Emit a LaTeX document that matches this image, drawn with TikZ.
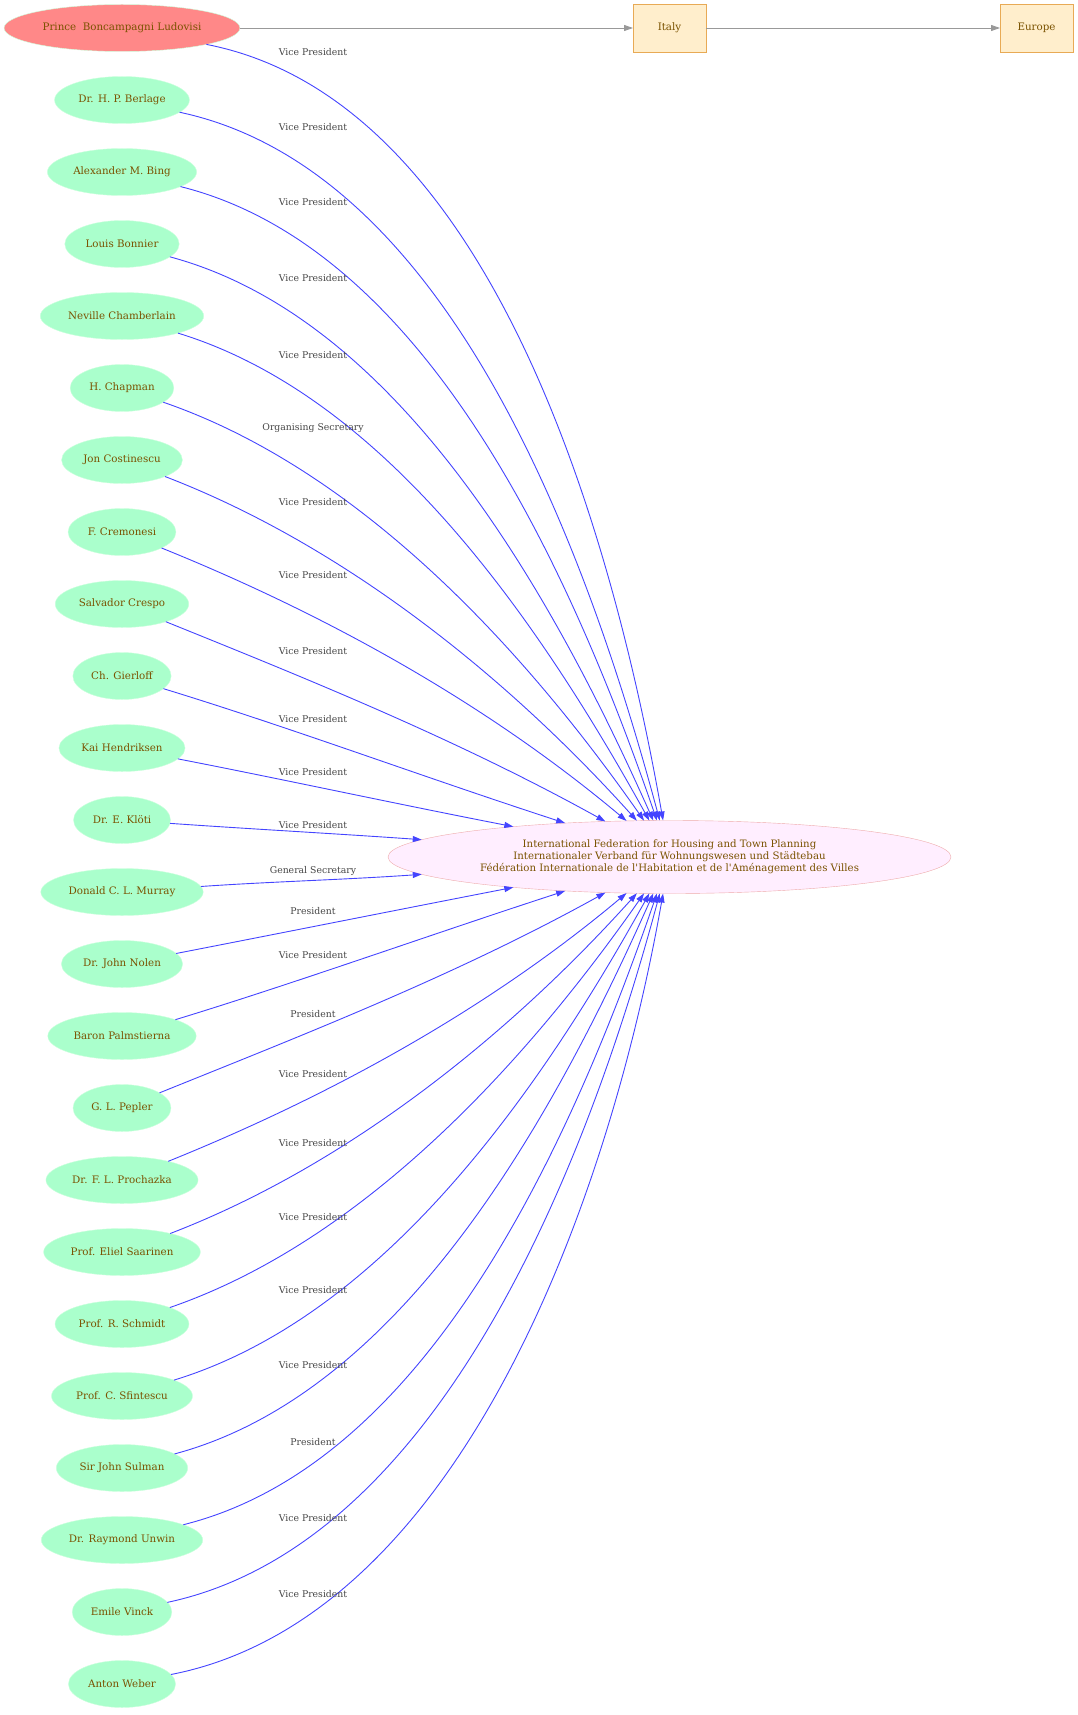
\documentclass[tikz,border=0pt]{standalone}
\usepackage{fontspec}
\setmainfont{DejaVu Serif}
\usetikzlibrary{positioning,shapes.geometric,arrows.meta}
\definecolor{namebrown}{RGB}{122,82,0}
\definecolor{mint}{RGB}{170,255,204}
\definecolor{mintline}{RGB}{204,255,221}
\definecolor{salmon}{RGB}{255,136,136}
\definecolor{blush}{RGB}{255,238,255}
\definecolor{blushline}{RGB}{238,170,170}
\definecolor{sand}{RGB}{255,238,204}
\definecolor{sandline}{RGB}{232,170,85}
\definecolor{linkblue}{RGB}{68,68,255}
\tikzset{person/.style={ellipse,draw=mintline,fill=mint,text=namebrown,minimum width=97pt,minimum height=47pt,inner xsep=4pt,outer sep=0pt,font=\fontsize{10.3}{12}\selectfont}}
\tikzset{chair/.style={person,fill=salmon,draw=mintline}}
\tikzset{place/.style={rectangle,draw=sandline,fill=sand,text=namebrown,minimum width=73pt,minimum height=48pt,outer sep=0pt,font=\fontsize{10.3}{12}\selectfont}}
\tikzset{org/.style={ellipse,draw=blushline,fill=blush,text=namebrown,minimum width=563pt,minimum height=73pt,inner sep=2pt,outer sep=0pt,align=center,font=\fontsize{10.2}{12.2}\selectfont}}
\tikzset{role/.style={text=black!73,inner sep=1pt,font=\fontsize{9.3}{10}\selectfont}}
\tikzset{link/.style={draw=linkblue,line width=0.9pt,out looseness=0.8,in looseness=0.9}}
\tikzset{geo/.style={draw=black!40,line width=0.9pt}}
\tikzset{node distance=25pt}
\tikzset{>={Triangle[length=9pt,width=6pt]}}

\begin{document}
\begin{tikzpicture}[x=1pt,y=1pt]
    \useasboundingbox (0,0) rectangle (1077,-1715);

    \node (P0) [chair] at (122,-28) {Prince\ \ Boncampagni Ludovisi};
    \foreach \name [count=\i, remember=\i as \j (initially 0)] in {Dr. H. P. Berlage, Alexander M. Bing, Louis Bonnier, Neville Chamberlain, H. Chapman, Jon Costinescu, F. Cremonesi, Salvador Crespo, Ch. Gierloff, Kai Hendriksen, Dr. E. Klöti, Donald C. L. Murray, Dr. John Nolen, Baron Palmstierna, G. L. Pepler, Dr. F. L. Prochazka, Prof. Eliel Saarinen, Prof. R. Schmidt, Prof. C. Sfintescu, Sir John Sulman, Dr. Raymond Unwin, Emile Vinck, Anton Weber}
        \node (P\i) [person,below=of P\j] {\name};

    \node (IFHTP) [org] at (669.5,-857) {International Federation for Housing and Town Planning\\Internationaler Verband für Wohnungswesen und Städtebau\\Fédération Internationale de l\textquotesingle Habitation et de l\textquotesingle Aménagement des Villes};

    \node (Italy) [place] at (IFHTP |- P0) {Italy};
    \node (Europe) [place,right=294pt of Italy] {Europe};
    \draw [geo,->] (P0) -- (Italy);
    \draw [geo,->] (Italy) -- (Europe);

    \foreach \i/\o/\t/\ly/\job in {0/-11/100/52/Vice President, 1/-12/105/127/Vice President, 2/-14/109/202/Vice President, 3/-15/114/278/Vice President, 4/-17/119/355/Vice President, 5/-19/125/428/Organising Secretary, 6/-21/132/502/Vice President, 7/-22/140/575/Vice President, 8/-22/151/651/Vice President, 9/-17/162/719/Vice President, 10/-11/169/772/Vice President, 11/-4/176/825/Vice President, 12/4/184/871/General Secretary, 13/11/191/911/President, 14/17/198/955/Vice President, 15/22/209/1014/President, 16/22/220/1074/Vice President, 17/21/228/1143/Vice President, 18/19/235/1217/Vice President, 19/17/241/1290/Vice President, 20/15/246/1365/Vice President, 21/14/251/1442/President, 22/12/255/1518/Vice President, 23/11/260/1594/Vice President}{
        \draw [link,->] (P\i) to[out=\o,in=\t] (IFHTP.\t);
        \node (R\i) [role] at (313,-\ly) {\job};
    }
\end{tikzpicture}
\end{document}
